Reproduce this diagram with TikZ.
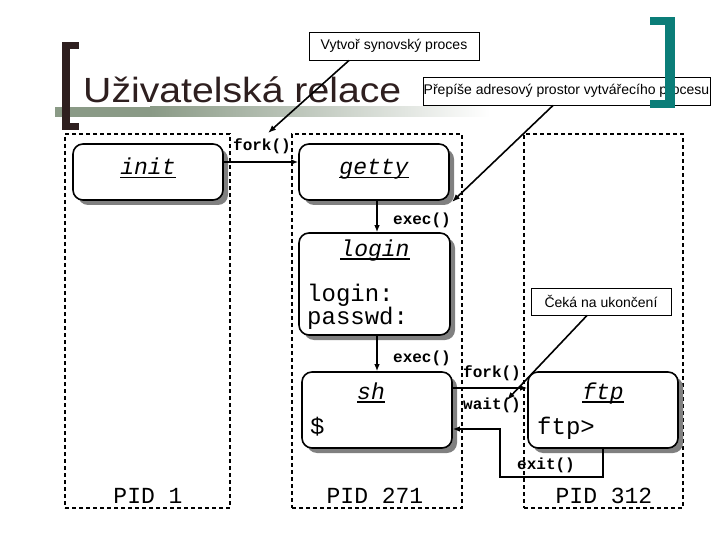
\documentclass[tikz,border=0pt]{standalone}
\usepackage{fontspec}
\setmainfont{Liberation Sans}
\newfontfamily\titlefont[FakeStretch=1.12]{Liberation Sans}
\newfontfamily\cour{Liberation Mono}
\usetikzlibrary{arrows.meta,shadows}
\definecolor{brk}{HTML}{2E1F1F}
\definecolor{teal2}{HTML}{0B7D78}
\definecolor{gg}{HTML}{8A9A86}
\newcommand\myul[1]{\setbox0=\hbox{#1}\rlap{\copy0}\smash{\raisebox{-3.5pt}{\rule{\wd0}{1.6pt}}}}
\tikzset{
  pbox/.style={draw, line width=1.6pt, rounded corners=10pt, fill=white,
     drop shadow={shadow xshift=5pt, shadow yshift=-5pt, fill=gray, opacity=1}},
  pidbox/.style={draw, line width=1.2pt, dash pattern=on 4pt off 3pt},
  callout/.style={draw, line width=0.9pt, fill=white, font=\fontsize{14}{16}\selectfont, inner sep=0pt},
  pname/.style={font=\cour\itshape\fontsize{23}{25}\selectfont, anchor=base, inner sep=0pt},
  ptext/.style={font=\cour\fontsize{24}{26}\selectfont, anchor=base west, inner sep=0pt},
  pidtext/.style={font=\cour\fontsize{23}{25}\selectfont, anchor=base, inner sep=0pt},
  clabel/.style={font=\cour\bfseries\fontsize{16}{18}\selectfont, inner sep=0pt},
  arr/.style={line width=1.3pt, -{Latex[length=7pt,width=5.5pt]}},
  carr/.style={line width=1.6pt, -{Latex[length=8pt,width=6pt]}}
}
\begin{document}
\begin{tikzpicture}[x=1pt,y=-1pt]
\useasboundingbox (0,0) rectangle (720,540);
% gradient bar
\fill[gg] (55,107) rectangle (150,117);
\shade[left color=gg, right color=white] (150,107) rectangle (490,117);
% left bracket
\fill[brk] (62,42) rectangle (70,130);
\fill[brk] (62,42) rectangle (79,49);
\fill[brk] (62,123) rectangle (79,130);
% title
\node[anchor=base west, inner sep=0pt, text=brk, font=\titlefont\fontsize{35}{40}\selectfont] (title) at (83,103) {Uživatelská relace};
% process boxes (dashed)
\node[pidbox, minimum width=165pt, minimum height=374pt] (b1) at (147.5,321) {};
\node[pidbox, minimum width=170pt, minimum height=374pt] (b2) at (377,321) {};
\node[pidbox, minimum width=159pt, minimum height=374pt] (b3) at (603.5,321) {};
% rounded boxes
\node[pbox, minimum width=150pt, minimum height=56pt] (init) at (148,172) {};
\node[pbox, minimum width=150pt, minimum height=56pt] (getty) at (374,172) {};
\node[pbox, minimum width=151pt, minimum height=102pt] (login) at (374.5,284) {};
\node[pbox, minimum width=150pt, minimum height=76pt] (sh) at (377,410) {};
\node[pbox, minimum width=150pt, minimum height=76pt] (ftp) at (603,410) {};
% names
\node[pname] (initn) at (148,175) {\myul{init}};
\node[pname] (gettyn) at (374,175) {\myul{getty}};
\node[pname] (loginn) at (375,256) {\myul{login}};
\node[pname] (shn) at (371,399) {\myul{sh}};
\node[pname] (ftpn) at (603,399) {\myul{ftp}};
% texts
\node[ptext] (t1) at (307,301) {login:};
\node[ptext] (t2) at (307,324) {passwd:};
\node[ptext] (t3) at (310,434) {\$};
\node[ptext] (t4) at (537,434) {ftp>};
\node[pidtext] (p1) at (148,503) {PID 1};
\node[pidtext] (p2) at (375,503) {PID 271};
\node[pidtext] (p3) at (604,503) {PID 312};
% connectors
\draw[arr] ([yshift=10pt]init.east) -- ([yshift=10pt]getty.west);
\draw[arr] ([xshift=3pt]getty.south) -- ([xshift=2.5pt]login.north);
\draw[arr] (login.south -| sh.north) -- (sh.north);
\draw[arr] ([yshift=22pt]sh.east) -- ([yshift=22pt]ftp.west);
\coordinate (ex1) at (500,477);
\draw[arr] (ftp.south) |- (ex1) |- ([yshift=-19pt]sh.east);
\node[clabel] (l1) at (262,146) {fork()};
\node[clabel] (l2) at (422,220) {exec()};
\node[clabel] (l3) at (422,358) {exec()};
\node[clabel] (l4) at (492,373) {fork()};
\node[clabel] (l5) at (492,405) {wait()};
\node[clabel] (l6) at (546,465) {exit()};
% callouts
\node[callout, minimum width=170pt, minimum height=28pt] (vyt) at (394,46) {Vytvoř synovský proces};
\node[callout, minimum width=287pt, minimum height=28pt] (prep) at (566.5,91) {Přepíše adresový prostor vytvářecího procesu};
\node[callout, minimum width=140pt, minimum height=27pt] (ceka) at (601,301.5) {Čeká na ukončení};
\coordinate (c1) at (268,133);
\coordinate (c2) at (452,202);
\coordinate (c3) at (507,400);
\draw[carr] ([xshift=-45pt]vyt.south) -- (c1);
\draw[carr] ([xshift=-13.5pt]prep.south) -- (c2);
\draw[carr] ([xshift=-14pt]ceka.south) -- (c3);
% right bracket
\fill[teal2] (665,17) rectangle (675,108);
\fill[teal2] (650,17) rectangle (675,25);
\fill[teal2] (650,100) rectangle (675,108);
\end{tikzpicture}
\end{document}
